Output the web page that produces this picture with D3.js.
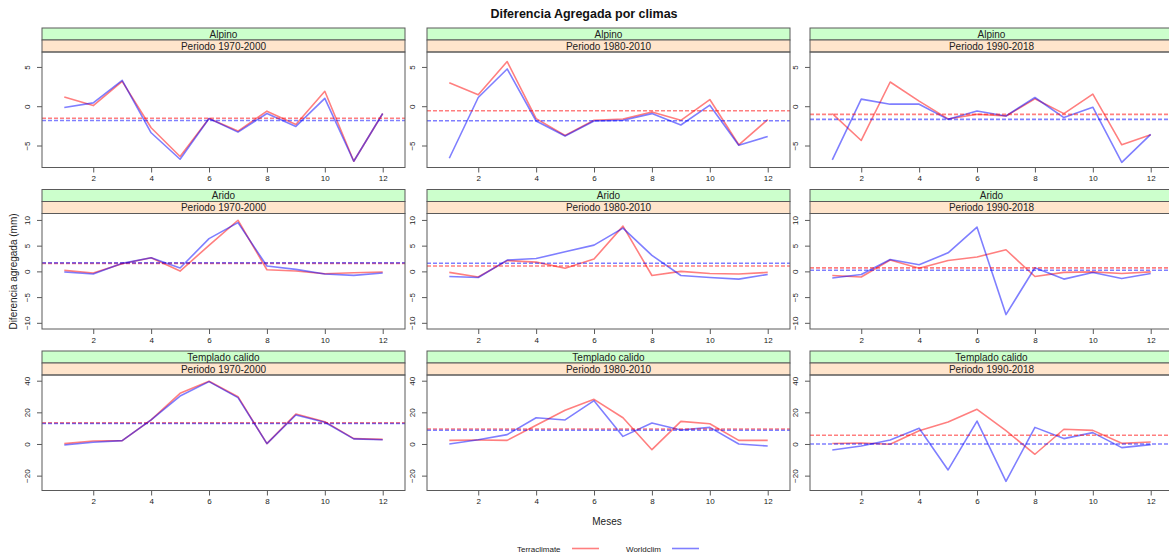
<!DOCTYPE html>
<html>
<head>
<meta charset="utf-8">
<script src="https://cdn.jsdelivr.net/npm/d3@7"></script>
<style>
  body { margin: 0; background: #fff; }
  svg { display: block; font-family: "Liberation Sans", Arial, sans-serif; }
</style>
</head>
<body>
<svg id="chart" width="1169" height="554"></svg>
<script>
// ---- data -------------------------------------------------------------
const months = [1, 2, 3, 4, 5, 6, 7, 8, 9, 10, 11, 12];
const climas = ["Alpino", "Arido", "Templado calido"];
const periodos = ["Periodo 1970-2000", "Periodo 1980-2010", "Periodo 1990-2018"];
const fuentes = ["Terraclimate", "Worldclim"];

// monthly aggregated difference (mm), one row per period
const terraAlpino = [
  [1.18, 0.08, 3.16, -2.74, -6.4, -1.56, -3.16, -0.63, -2.32, 1.9, -7.0, -0.93],
  [2.99, 1.45, 5.68, -1.58, -3.72, -1.79, -1.62, -0.73, -1.79, 0.85, -4.91, -1.71],
  [-0.94, -4.36, 3.08, 0.64, -1.62, -1.03, -1.24, 0.94, -0.94, 1.54, -4.91, -3.63]
];
const worldAlpino = [
  [-0.17, 0.42, 3.3, -3.38, -6.75, -1.56, -3.3, -0.93, -2.57, 1.0, -7.0, -0.93],
  [-6.62, 1.11, 4.74, -1.88, -3.8, -1.88, -1.79, -0.94, -2.39, 0.13, -4.96, -3.85],
  [-6.84, 0.9, 0.26, 0.26, -1.67, -0.6, -1.24, 1.11, -1.45, -0.13, -7.14, -3.59]
];
const terraArido = [
  [0.19, -0.32, 1.49, 2.66, 0.06, 5.06, 9.94, 0.32, 0.06, -0.45, -0.26, -0.13],
  [-0.2, -1.1, 2.1, 1.8, 0.6, 2.4, 8.8, -0.8, 0.0, -0.4, -0.5, -0.2],
  [-0.8, -1.1, 2.2, 0.6, 2.1, 2.8, 4.2, -1.0, -0.2, -0.1, -0.4, -0.1]
];
const worldArido = [
  [-0.13, -0.52, 1.56, 2.66, 0.65, 6.36, 9.48, 1.04, 0.39, -0.52, -0.78, -0.32],
  [-1.0, -1.2, 2.2, 2.5, 3.8, 5.1, 8.4, 3.1, -0.8, -1.2, -1.5, -0.6],
  [-1.3, -0.6, 2.3, 1.3, 3.6, 8.6, -8.4, 0.7, -1.5, -0.2, -1.4, -0.4]
];
const terraTemplado = [
  [0.2, 1.9, 2.1, 15.2, 32.0, 39.6, 29.9, 0.2, 18.9, 14.1, 3.4, 2.9],
  [2.3, 2.5, 2.3, 11.8, 21.3, 28.2, 16.6, -3.6, 14.3, 12.8, 2.3, 2.3],
  [0.3, 0.6, -0.2, 8.4, 13.9, 21.9, 8.4, -6.5, 9.3, 8.6, 0.4, 1.3]
];
const worldTemplado = [
  [-0.6, 1.1, 2.1, 15.2, 30.3, 39.4, 29.3, 0.2, 18.3, 13.7, 3.2, 2.7],
  [0.0, 2.7, 5.9, 16.6, 15.2, 27.4, 4.8, 13.3, 8.8, 10.5, 0.0, -1.3],
  [-3.8, -1.3, 2.5, 9.9, -16.4, 14.5, -23.6, 10.5, 3.4, 7.2, -2.3, -0.4]
];

// axis ticks and limits per climate row
const xTicks = [2, 4, 6, 8, 10, 12];
const yTicksAlpino = [-5, 0, 5];
const yTicksArido = [-10, -5, 0, 5, 10];
const yTicksTemplado = [-20, 0, 20, 40];
const yLimAlpino = [-7.8, 6.9];
const yLimArido = [-11.2, 11.25];
const yLimTemplado = [-29.4, 43.6];

const rows = [
  { terra: terraAlpino, world: worldAlpino, ticks: yTicksAlpino, lim: yLimAlpino },
  { terra: terraArido, world: worldArido, ticks: yTicksArido, lim: yLimArido },
  { terra: terraTemplado, world: worldTemplado, ticks: yTicksTemplado, lim: yLimTemplado }
];

// ---- layout -----------------------------------------------------------
const colLeft = [42, 427, 810];
const rowTop = [28, 189.5, 351];
const panelW = 363, stripH = 12, panelH = 115.5;
const axisCol = "#5a5a5a", textCol = "#222";
const colTerra = "rgba(255,0,0,0.5)", colWorld = "rgba(0,0,255,0.5)";
const stripTop = "#ccffcc", stripBottom = "#ffe5cc";

const svg = d3.select("#chart");

// x extends 7% beyond the month range on each side
const xPad = (d3.max(months) - d3.min(months)) * 0.07;
const xDomain = [d3.min(months) - xPad, d3.max(months) + xPad];

svg.append("text")
  .attr("x", 584).attr("y", 18)
  .attr("text-anchor", "middle")
  .attr("font-size", 12.5).attr("font-weight", "bold")
  .attr("fill", "#111")
  .text("Diferencia Agregada por climas");

rows.forEach((row, ri) => {
  periodos.forEach((per, ci) => {
    const left = colLeft[ci];
    const top = rowTop[ri];
    const pTop = top + 2 * stripH;
    const g = svg.append("g");

    const x = d3.scaleLinear().domain(xDomain).range([left, left + panelW]);
    const y = d3.scaleLinear().domain(row.lim).range([pTop + panelH, pTop]);

    // strips
    g.append("rect").attr("x", left).attr("y", top).attr("width", panelW).attr("height", stripH)
      .attr("fill", stripTop).attr("stroke", axisCol).attr("stroke-width", 1);
    g.append("rect").attr("x", left).attr("y", top + stripH).attr("width", panelW).attr("height", stripH)
      .attr("fill", stripBottom).attr("stroke", axisCol).attr("stroke-width", 1);
    g.append("text").attr("x", left + panelW / 2).attr("y", top + stripH / 2 + 3.6)
      .attr("text-anchor", "middle").attr("font-size", 10).attr("fill", textCol).text(climas[ri]);
    g.append("text").attr("x", left + panelW / 2).attr("y", top + stripH * 1.5 + 3.6)
      .attr("text-anchor", "middle").attr("font-size", 10).attr("fill", textCol).text(per);

    // clip region for the panel
    const clipId = `clip-${ri}-${ci}`;
    svg.append("clipPath").attr("id", clipId)
      .append("rect").attr("x", left).attr("y", pTop).attr("width", panelW).attr("height", panelH);

    // bottom axis
    const xAxis = d3.axisBottom(x).tickValues(xTicks).tickSize(5).tickPadding(3).tickFormat(d3.format("d"));
    const gx = g.append("g").attr("transform", `translate(0,${pTop + panelH})`).call(xAxis);
    gx.select(".domain").remove();
    gx.selectAll("line").attr("stroke", axisCol);
    gx.selectAll("text").attr("font-size", 8).attr("fill", textCol).attr("font-family", "Liberation Sans, Arial, sans-serif");

    // left axis with rotated labels
    const yAxis = d3.axisLeft(y).tickValues(row.ticks).tickSize(5).tickFormat(d3.format("d"));
    const gy = g.append("g").attr("transform", `translate(${left},0)`).call(yAxis);
    gy.select(".domain").remove();
    gy.selectAll("line").attr("stroke", axisCol);
    gy.selectAll("text")
      .attr("font-size", 8).attr("fill", textCol).attr("font-family", "Liberation Sans, Arial, sans-serif")
      .attr("x", null).attr("dy", null)
      .attr("text-anchor", "middle")
      .attr("transform", "translate(-12,0) rotate(-90)");

    const plot = g.append("g").attr("clip-path", `url(#${clipId})`);
    const line = d3.line().x((d, i) => x(months[i])).y(d => y(d));

    const series = [
      { vals: row.terra[ci], col: colTerra },
      { vals: row.world[ci], col: colWorld }
    ];
    series.forEach(s => {
      plot.append("path").datum(s.vals).attr("d", line)
        .attr("fill", "none").attr("stroke", s.col).attr("stroke-width", 1.6)
        .attr("stroke-linejoin", "round");
    });
    series.forEach(s => {
      const m = d3.mean(s.vals);
      plot.append("line")
        .attr("x1", left).attr("x2", left + panelW)
        .attr("y1", y(m)).attr("y2", y(m))
        .attr("stroke", s.col).attr("stroke-width", 1.6)
        .attr("stroke-dasharray", "4,2");
    });

    // panel border
    g.append("rect").attr("x", left).attr("y", pTop).attr("width", panelW).attr("height", panelH)
      .attr("fill", "none").attr("stroke", axisCol).attr("stroke-width", 1);
  });
});

// axis titles
svg.append("text")
  .attr("transform", "translate(17,271.5) rotate(-90)")
  .attr("text-anchor", "middle").attr("font-size", 10).attr("fill", textCol)
  .text("Diferencia agregada (mm)");
svg.append("text")
  .attr("x", 607).attr("y", 524.5)
  .attr("text-anchor", "middle").attr("font-size", 10).attr("fill", textCol)
  .text("Meses");

// legend
const legendX = [517, 626];
const legendLineX = [572, 672];
fuentes.forEach((f, i) => {
  svg.append("text").attr("x", legendX[i]).attr("y", 551.5)
    .attr("font-size", 8).attr("fill", textCol).text(f);
  svg.append("line")
    .attr("x1", legendLineX[i]).attr("x2", legendLineX[i] + 27)
    .attr("y1", 548.5).attr("y2", 548.5)
    .attr("stroke", i === 0 ? colTerra : colWorld).attr("stroke-width", 1.6);
});
</script>
</body>
</html>
